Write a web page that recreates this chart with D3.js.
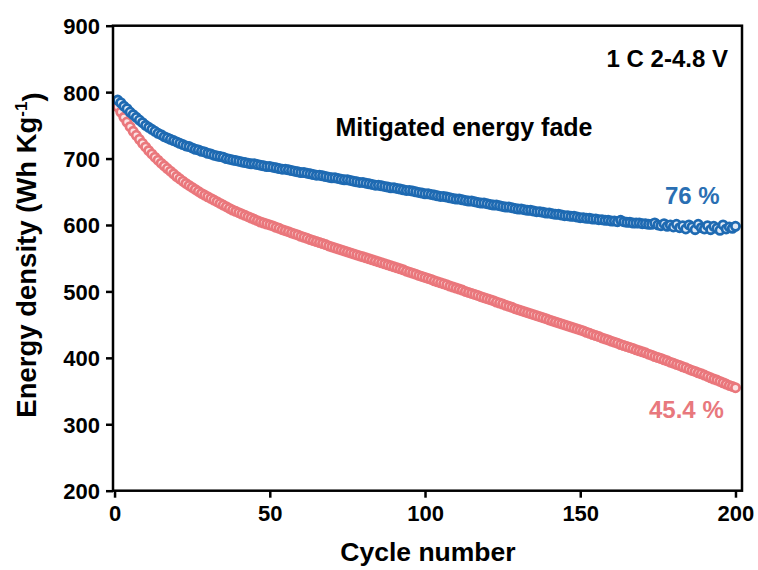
<!DOCTYPE html>
<html>
<head>
<meta charset="utf-8">
<script src="https://cdn.jsdelivr.net/npm/d3@7"></script>
<style>
  html, body { margin: 0; padding: 0; background: #fff; }
  svg { display: block; }
  text { font-family: "Liberation Sans", Arial, Helvetica, sans-serif; font-weight: bold; }
</style>
</head>
<body>
<svg id="chart" width="758" height="570"></svg>
<script>
// Energy density (Wh/kg) per cycle, cycles 1..200
const cycles = d3.range(1, 201);

const modified = [
  788, 784, 779, 775, 770, 766, 762, 758, 754, 750,
  747, 744, 741, 738, 736, 733, 731, 729, 727, 725,
  723, 721, 719, 718, 716, 714, 713, 711, 710, 708,
  707, 705, 704, 703, 702, 700, 699, 698, 697, 696,
  695, 694, 693, 692, 692, 691, 690, 689, 688, 688,
  687, 686, 685, 684, 684, 683, 682, 681, 680, 679,
  679, 678, 677, 676, 675, 675, 674, 673, 672, 671,
  671, 670, 669, 668, 668, 667, 666, 665, 664, 664,
  663, 662, 661, 660, 660, 659, 658, 657, 656, 656,
  655, 654, 653, 652, 652, 651, 650, 649, 648, 647,
  647, 646, 645, 644, 643, 643, 642, 641, 640, 639,
  639, 638, 637, 636, 636, 635, 634, 633, 633, 632,
  631, 630, 630, 629, 628, 627, 627, 626, 625, 624,
  624, 623, 622, 622, 621, 620, 620, 619, 618, 618,
  617, 616, 616, 615, 614, 614, 613, 613, 612, 611,
  611, 610, 610, 609, 609, 608, 608, 607, 607, 606,
  606, 605, 607, 605, 604, 604, 603, 603, 603, 602,
  602, 601, 601, 603, 600, 599, 602, 598, 600, 597,
  601, 596, 599, 594, 600, 597, 593, 601, 596, 594,
  599, 593, 598, 595, 592, 600, 594, 597, 595, 598
];

const pristine = [
  778, 770, 762, 755, 748, 741, 735, 729, 723, 717.5,
  712, 707, 702, 697.5, 693, 689, 685, 681, 677, 673,
  669.5, 666, 662.5, 659.5, 656.5, 653.5, 650.5, 647.5, 645, 642.5,
  640, 637.5, 635, 632.5, 630, 627.5, 625, 622.5, 620.5, 618.5,
  616.5, 614.5, 612.5, 610.5, 608.5, 606.5, 604.5, 603, 601.5, 600,
  598.5, 596.5, 595, 593, 591.5, 590, 588, 586.5, 585, 583,
  581.5, 580, 578, 576.5, 575, 573.5, 572, 570.5, 568.5, 567,
  565.5, 564, 562.5, 561, 559.5, 558, 556.5, 555, 553.5, 552,
  550.5, 549, 547.5, 546, 544.5, 543, 541.5, 540, 538.5, 537,
  535.5, 534, 532.5, 530.5, 529, 527.5, 526, 524, 522.5, 521,
  519.5, 518, 516, 514.5, 513, 511.5, 510, 508, 506.5, 505,
  503.5, 502, 500, 498.5, 497, 495.5, 494, 492, 490.5, 489,
  487.5, 486, 484, 482.5, 481, 479, 477.5, 476, 474, 472.5,
  471, 469.5, 468, 466.5, 465, 463.5, 462, 460.5, 459, 457,
  455.5, 454, 452.5, 451, 449.5, 448, 446.5, 445, 443.5, 442,
  440.5, 438.5, 437, 435, 433.5, 432, 430, 428.5, 427, 425,
  423.5, 422, 420, 418.5, 417, 415.5, 414, 412, 410.5, 409,
  407.5, 405.5, 404, 402, 400.5, 399, 397, 395.5, 393.5, 392,
  390, 388.5, 386.5, 385, 383, 381, 379.5, 377.5, 376, 374,
  372, 370, 368, 366.5, 364.5, 362.5, 360.5, 358.5, 357, 355
];

const xTicks = [0, 50, 100, 150, 200];
const yTicks = [200, 300, 400, 500, 600, 700, 800, 900];
const retentionLabels = ["76 %", "45.4 %"];

const svg = d3.select("#chart");
const plotLeft = 113, plotRight = 742, plotTop = 25.7, plotBottom = 490.7;

const x = d3.scaleLinear().domain([-0.5, 202.1]).range([plotLeft, plotRight]);
const y = d3.scaleLinear().domain([200, 900]).range([plotBottom, plotTop]);

const blue = "#1e6ab2", blueFill = "#dfe9f5";
const red = "#ea777c", redFill = "#fbe2e3";

// series: pristine underneath, modified on top
function drawSeries(values, stroke, fill) {
  svg.append("g")
    .selectAll("circle")
    .data(values)
    .join("circle")
    .attr("cx", (d, i) => x(cycles[i]))
    .attr("cy", d => y(d))
    .attr("r", 4.1)
    .attr("fill", fill)
    .attr("stroke", stroke)
    .attr("stroke-width", 2.8);
}
drawSeries(pristine, red, redFill);
drawSeries(modified, blue, blueFill);

// axes
const xAxis = svg.append("g")
  .attr("transform", `translate(0,${plotBottom})`)
  .call(d3.axisBottom(x).tickValues(xTicks).tickSize(7).tickPadding(8).tickFormat(d3.format("d")));
const yAxis = svg.append("g")
  .attr("transform", `translate(${plotLeft},0)`)
  .call(d3.axisLeft(y).tickValues(yTicks).tickSize(7).tickPadding(6).tickFormat(d3.format("d")));

[xAxis, yAxis].forEach(g => {
  g.select(".domain").remove();
  g.selectAll(".tick line").attr("stroke", "#000").attr("stroke-width", 2.5);
  g.selectAll(".tick text")
    .attr("fill", "#000")
    .style("font-size", "22px")
    .style("font-weight", "bold")
    .style("font-family", '"Liberation Sans", Arial, sans-serif');
});
yAxis.selectAll(".tick text").attr("dy", "0.36em");

// frame
svg.append("rect")
  .attr("x", plotLeft).attr("y", plotTop)
  .attr("width", plotRight - plotLeft).attr("height", plotBottom - plotTop)
  .attr("fill", "none").attr("stroke", "#000").attr("stroke-width", 2.5);

// axis titles
svg.append("text")
  .attr("x", 428).attr("y", 561)
  .attr("text-anchor", "middle")
  .style("font-size", "26.5px")
  .text("Cycle number");

const yt = svg.append("text")
  .attr("transform", "translate(36,255) rotate(-90)")
  .attr("text-anchor", "middle")
  .style("font-size", "27.5px");
yt.append("tspan").text("Energy density (Wh Kg");
yt.append("tspan").attr("dy", "-0.55em").style("font-size", "17px").text("-1");
yt.append("tspan").attr("dy", "0.55em").text(")");

// annotations
svg.append("text")
  .attr("x", 728).attr("y", 67)
  .attr("text-anchor", "end")
  .style("font-size", "24px")
  .text("1 C 2-4.8 V");

svg.append("text")
  .attr("x", 464).attr("y", 136)
  .attr("text-anchor", "middle")
  .style("font-size", "25px")
  .text("Mitigated energy fade");

svg.append("text")
  .attr("x", 665).attr("y", 204)
  .attr("fill", "#2a6fb3")
  .style("font-size", "24px")
  .text(retentionLabels[0]);

svg.append("text")
  .attr("x", 649).attr("y", 418)
  .attr("fill", "#e8787d")
  .style("font-size", "24px")
  .text(retentionLabels[1]);
</script>
</body>
</html>
